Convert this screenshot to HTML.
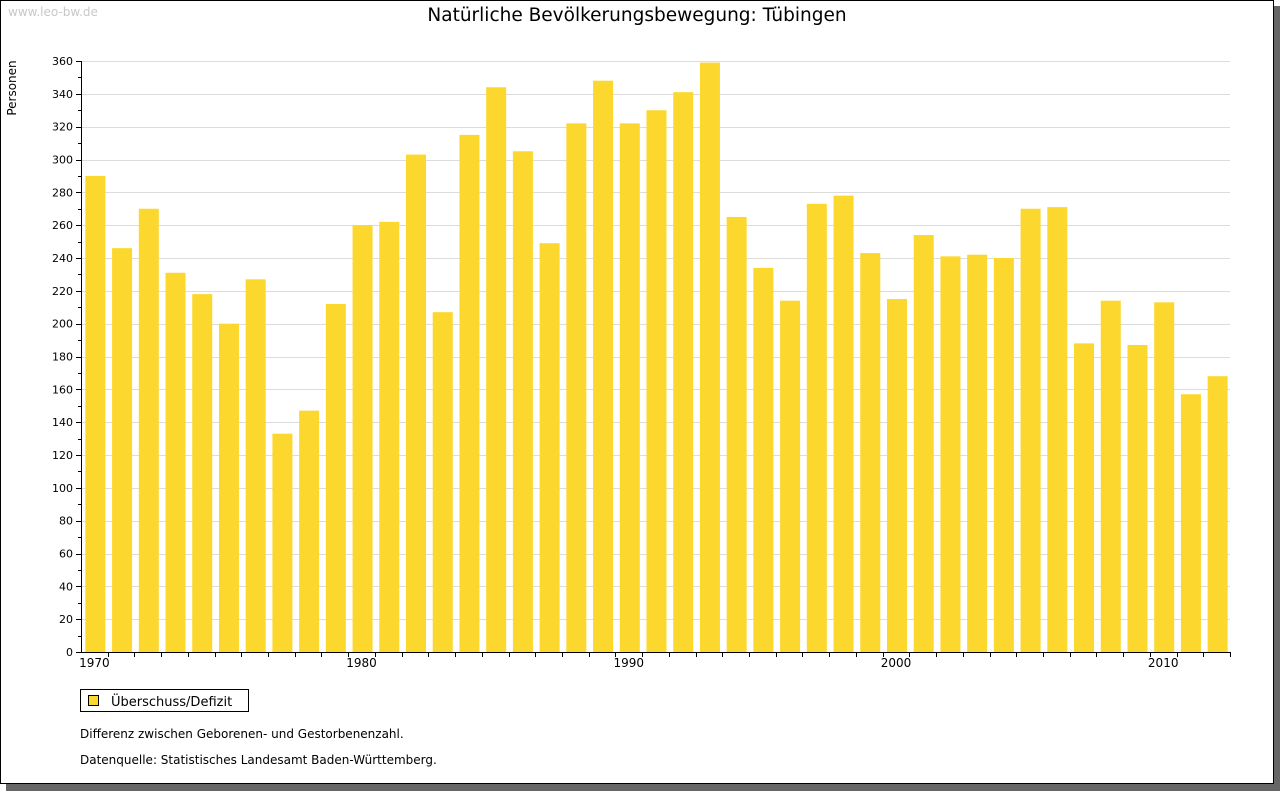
<!DOCTYPE html>
<html><head><meta charset="utf-8">
<style>
body{margin:0;background:#fff;width:1280px;height:791px;overflow:hidden;font-family:"DejaVu Sans","Liberation Sans",sans-serif;}
svg text{font-family:"DejaVu Sans","Liberation Sans",sans-serif;}
</style></head><body>
<svg id="chart" width="1280" height="791" xmlns="http://www.w3.org/2000/svg">
<rect x="6" y="6" width="1274" height="785" fill="#666"/>
<rect x="0.5" y="0.5" width="1273" height="783" fill="#fff" stroke="#000"/>
<text x="8" y="16" font-size="12" fill="#c8c8c8">www.leo-bw.de</text>
<text x="637" y="21" font-size="18.5" text-anchor="middle" fill="#000">Natürliche Bevölkerungsbewegung: Tübingen</text>
<text transform="translate(16,88) rotate(-90)" font-size="12" text-anchor="middle">Personen</text>
<g id="grid"></g><g id="bars"></g><g id="axes"></g>
<g>
<rect x="80.5" y="689.5" width="168" height="22" fill="#fff" stroke="#000"/>
<rect x="88.5" y="695.5" width="10" height="10" fill="#fcd72d" stroke="#000"/>
<text x="111" y="706" font-size="13">Überschuss/Defizit</text>
</g>
<text x="80" y="738" font-size="12">Differenz zwischen Geborenen- und Gestorbenenzahl.</text>
<text x="80" y="764" font-size="12">Datenquelle: Statistisches Landesamt Baden-Württemberg.</text>
</svg>
<script>
const years=[1970,1971,1972,1973,1974,1975,1976,1977,1978,1979,1980,1981,1982,1983,1984,1985,1986,1987,1988,1989,1990,1991,1992,1993,1994,1995,1996,1997,1998,1999,2000,2001,2002,2003,2004,2005,2006,2007,2008,2009,2010,2011,2012];
const values=[290,246,270,231,218,200,227,133,147,212,260,262,303,207,315,344,305,249,322,348,322,330,341,359,265,234,214,273,278,243,215,254,241,242,240,270,271,188,214,187,213,157,168];
const yTicks=[0,20,40,60,80,100,120,140,160,180,200,220,240,260,280,300,320,340,360];
const xLabels=[1970,1980,1990,2000,2010];
const NS="http://www.w3.org/2000/svg";
const L=81,R=1230,T=61,B=652,ymax=360;
const band=(R-L)/years.length;
const y=v=>B-(v/ymax)*(B-T);
const xs=i=>L+i*band;
function mk(tag,attrs,parent,txt){const e=document.createElementNS(NS,tag);for(const k in attrs)e.setAttribute(k,attrs[k]);if(txt!=null)e.textContent=txt;parent.appendChild(e);return e;}
const grid=document.getElementById('grid'),bars=document.getElementById('bars'),axes=document.getElementById('axes');
yTicks.forEach(t=>{
  if(t>0){const g=mk('line',{x1:L,x2:R,y1:Math.round(y(t))+0.5,y2:Math.round(y(t))+0.5,stroke:'#dcdcdc'},grid);
  
  }
  mk('line',{x1:L-5,x2:L,y1:Math.round(y(t))+0.5,y2:Math.round(y(t))+0.5,stroke:'#000'},axes);
  const mt=t+10; if(mt<ymax) mk('line',{x1:L-3,x2:L,y1:Math.round(y(mt))+0.5,y2:Math.round(y(mt))+0.5,stroke:'#000'},axes);
  const lb=mk('text',{x:L-8,y:y(t)+4,'font-size':11,'text-anchor':'end'},axes,t);
  
  
});
values.forEach((v,i)=>{
  const cx=xs(i)+band/2+1;
  const r=mk('rect',{x:cx-10,y:y(v),width:20,height:B-y(v),fill:'#fcd72d'},bars);
  
  
  mk('line',{x1:Math.round(xs(i+1))+0.5,x2:Math.round(xs(i+1))+0.5,y1:B,y2:B+5,stroke:'#000'},axes);
});
xLabels.forEach(yr=>{
  const i=years.indexOf(yr);
  const lb=mk('text',{x:xs(i)+band/2,y:B+15,'font-size':12,'text-anchor':'middle'},axes,yr);
  
  
});
mk('line',{x1:L+0.5,x2:L+0.5,y1:T,y2:B+1,stroke:'#000'},axes);
mk('line',{x1:L,x2:R,y1:B+0.5,y2:B+0.5,stroke:'#000'},axes);
</script>
</body></html>
